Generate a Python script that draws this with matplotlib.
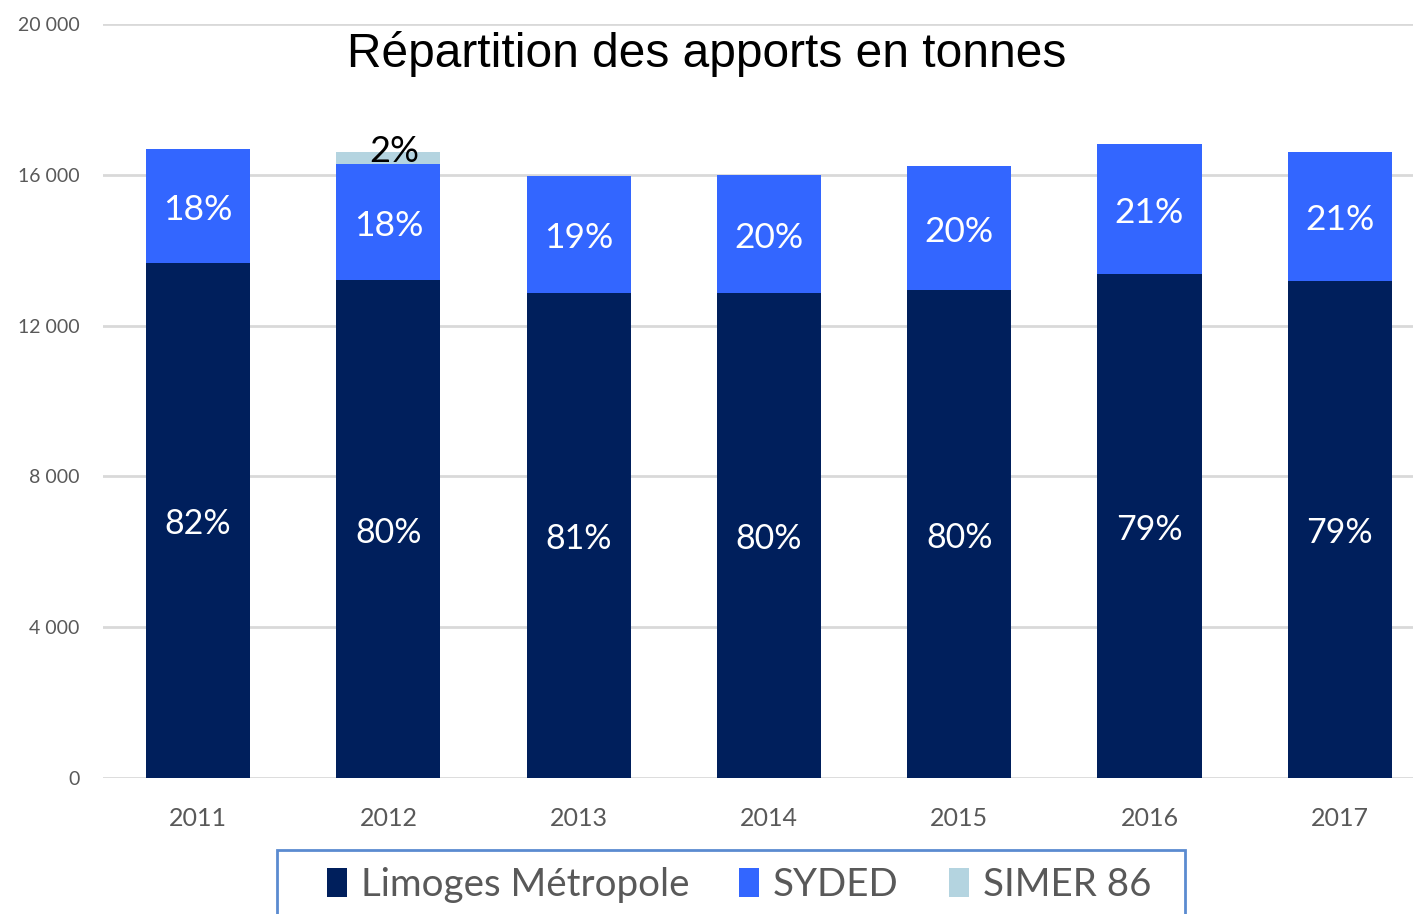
import matplotlib.pyplot as plt
import numpy as np
from matplotlib.patches import Rectangle

years = ["2011", "2012", "2013", "2014", "2015", "2016", "2017"]
limoges = [13660, 13210, 12860, 12860, 12940, 13370, 13180]
syded = [3020, 3080, 3110, 3130, 3290, 3450, 3420]
simer = [0, 310, 0, 0, 0, 0, 0]
pct_limoges = ["82%", "80%", "81%", "80%", "80%", "79%", "79%"]
pct_syded = ["18%", "18%", "19%", "20%", "20%", "21%", "21%"]
pct_simer = ["", "2%", "", "", "", "", ""]
yticks = [0, 4000, 8000, 12000, 16000, 20000]
ytick_labels = ["0", "4 000", "8 000", "12 000", "16 000", "20 000"]

c_dark = "#001F5C"
c_blue = "#3366FF"
c_light = "#B4D4E0"
label_font = ["Lato", "DejaVu Sans"]

fig = plt.figure(figsize=(14.13, 9.14), dpi=100)
ax = fig.add_axes([103 / 1413, 136 / 914, 1310 / 1413, 754 / 914])

x = np.arange(len(years))
w = 0.547
limoges = np.array(limoges)
syded = np.array(syded)
simer = np.array(simer)

ax.bar(x, limoges, w, color=c_dark, label="Limoges Métropole", zorder=3)
ax.bar(x, syded, w, bottom=limoges, color=c_blue, label="SYDED", zorder=3)
ax.bar(x, simer, w, bottom=limoges + syded, color=c_light, label="SIMER 86", zorder=3)

for i in range(len(years)):
    ax.text(x[i], limoges[i] / 2 - 100, pct_limoges[i], ha="center", va="center",
            color="white", fontsize=24.5, family=label_font, zorder=4)
    ax.text(x[i], limoges[i] + syded[i] / 2 - 100, pct_syded[i], ha="center", va="center",
            color="white", fontsize=25.5, family=label_font, zorder=4)
    if pct_simer[i]:
        top = limoges[i] + syded[i] + simer[i]
        ax.text(x[i] + 0.03, top - 420, pct_simer[i], ha="center", va="bottom",
                color="black", fontsize=26, family=label_font, zorder=4)

ax.set_xlim(-0.5, 6.385)
ax.set_ylim(0, 20000)
ax.set_yticks(yticks)
ax.set_yticklabels(ytick_labels)
ax.set_xticks(x)
ax.set_xticklabels(years)
ax.tick_params(axis="y", length=0, pad=17, labelsize=14, labelcolor="#595959")
ax.tick_params(axis="x", length=0, pad=21, labelsize=18, labelcolor="#595959")
for lab in ax.get_xticklabels() + ax.get_yticklabels():
    lab.set_family(label_font)
ax.grid(axis="y", color="#D9D9D9", linewidth=2, zorder=0)
for s in ax.spines.values():
    s.set_visible(False)

fig.text(707 / 1413, 1 - 54 / 914, "Répartition des apports en tonnes", ha="center",
         va="center", fontsize=34.5, family="Liberation Sans")

# legend frame, cut by the bottom edge like in the original
fig.patches.append(Rectangle((277 / 1413, -0.02), 908 / 1413, 0.02 + 64 / 914,
                             transform=fig.transFigure, fill=False,
                             edgecolor="#5B8BD0", linewidth=2))
leg = fig.legend(loc="center", bbox_to_anchor=(739 / 1413, 1 - 885 / 914), ncol=3,
                 frameon=False, prop={"family": label_font, "size": 27.7},
                 labelcolor="#595959", handlelength=0.52, handleheight=0.8,
                 handletextpad=0.36, columnspacing=1.3, borderaxespad=0)

fig.savefig("out.png", dpi=100)
